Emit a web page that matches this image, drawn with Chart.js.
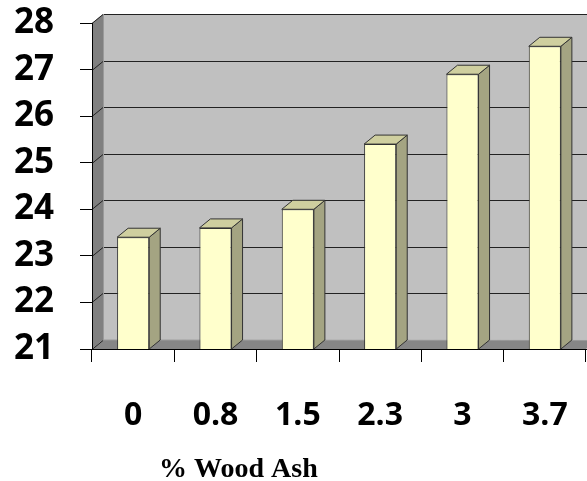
<!DOCTYPE html>
<html>
<head>
<meta charset="utf-8">
<script src="https://cdn.jsdelivr.net/npm/chart.js@4/dist/chart.umd.min.js"></script>
<style>
  html, body { margin: 0; padding: 0; background: #ffffff; }
  #wrap { width: 587px; height: 481px; }
</style>
</head>
<body>
<div id="wrap"><canvas id="chart" width="587" height="481"></canvas></div>
<script>
// Data
const categories = ['0', '0.8', '1.5', '2.3', '3', '3.7'];
const values = [23.4, 23.6, 24.0, 25.4, 26.9, 27.5];
const yMin = 21;
const yMax = 28;
const yStep = 1;
const xTitle = '% Wood Ash';

// 3D look: depth offset of the walls and column sides
const DX = 11, DY = 9;

const wallsPlugin = {
  id: 'walls',
  beforeDraw(chart) {
    const { ctx, chartArea: a, scales } = chart;
    const y = scales.y;
    ctx.save();
    // back wall
    ctx.fillStyle = '#c0c0c0';
    ctx.fillRect(a.left + DX, a.top - DY, a.right - a.left + DX, a.bottom - a.top);
    // left side wall
    ctx.fillStyle = '#808080';
    ctx.beginPath();
    ctx.moveTo(a.left, a.top);
    ctx.lineTo(a.left + DX, a.top - DY);
    ctx.lineTo(a.left + DX, a.bottom - DY);
    ctx.lineTo(a.left, a.bottom);
    ctx.closePath();
    ctx.fill();
    // floor
    ctx.fillStyle = '#868686';
    ctx.beginPath();
    ctx.moveTo(a.left, a.bottom);
    ctx.lineTo(a.left + DX, a.bottom - DY);
    ctx.lineTo(a.right + DX, a.bottom - DY);
    ctx.lineTo(a.right, a.bottom);
    ctx.closePath();
    ctx.fill();
    // grid lines on the walls
    ctx.strokeStyle = '#222222';
    ctx.lineWidth = 1;
    for (let v = yMin + yStep; v <= yMax; v += yStep) {
      const py = Math.round(y.getPixelForValue(v)) + 0.5;
      ctx.beginPath();
      ctx.moveTo(a.left, py);
      ctx.lineTo(a.left + DX, py - DY);
      ctx.lineTo(a.right + DX, py - DY);
      ctx.stroke();
    }
    // inner edges of the walls
    ctx.strokeStyle = '#9a9a9a';
    ctx.beginPath();
    ctx.moveTo(a.left + DX + 0.5, a.top - DY);
    ctx.lineTo(a.left + DX + 0.5, a.bottom - DY);
    ctx.lineTo(a.right + DX, a.bottom - DY + 0.5);
    ctx.stroke();
    ctx.strokeStyle = '#222222';
    ctx.beginPath();
    ctx.moveTo(a.left, a.bottom + 0.5);
    ctx.lineTo(a.left + DX, a.bottom - DY + 0.5);
    ctx.stroke();
    ctx.restore();
  }
};

const columnsPlugin = {
  id: 'columns3d',
  afterDatasetsDraw(chart) {
    const { ctx, chartArea: a } = chart;
    const meta = chart.getDatasetMeta(0);
    ctx.save();
    ctx.strokeStyle = '#333333';
    ctx.lineWidth = 1;
    ctx.lineJoin = 'round';
    meta.data.forEach(bar => {
      const p = bar.getProps(['x', 'y', 'base', 'width'], true);
      const base = Math.min(p.base, a.bottom);
      const y = p.y;
      const l = p.x - p.width / 2, r = p.x + p.width / 2;
      // side face
      ctx.fillStyle = '#a4a482';
      ctx.beginPath();
      ctx.moveTo(r, y);
      ctx.lineTo(r + DX, y - DY);
      ctx.lineTo(r + DX, base - DY);
      ctx.lineTo(r, base);
      ctx.closePath();
      ctx.fill();
      ctx.stroke();
      // top face
      ctx.fillStyle = '#cfcf9f';
      ctx.beginPath();
      ctx.moveTo(l, y);
      ctx.lineTo(l + DX, y - DY);
      ctx.lineTo(r + DX, y - DY);
      ctx.lineTo(r, y);
      ctx.closePath();
      ctx.fill();
      ctx.stroke();
    });
    ctx.restore();
  }
};

const axisTitlePlugin = {
  id: 'axisTitle',
  afterDraw(chart) {
    const { ctx } = chart;
    ctx.save();
    ctx.fillStyle = '#000000';
    ctx.font = 'bold 28px "Liberation Serif", "Times New Roman", serif';
    ctx.textAlign = 'left';
    ctx.textBaseline = 'alphabetic';
    ctx.fillText(xTitle, 159, 477);
    ctx.restore();
  }
};

new Chart(document.getElementById('chart'), {
  type: 'bar',
  data: {
    labels: categories,
    datasets: [{
      data: values,
      backgroundColor: '#ffffcc',
      borderColor: '#333333',
      borderWidth: 1,
      barPercentage: 0.39,
      categoryPercentage: 1.0
    }]
  },
  options: {
    responsive: false,
    animation: false,
    devicePixelRatio: 1,
    layout: { padding: { top: 23, right: 1, left: 0, bottom: 0 } },
    plugins: {
      legend: { display: false },
      tooltip: { enabled: false }
    },
    scales: {
      x: {
        offset: true,
        grid: {
          offset: true,
          drawOnChartArea: false,
          tickLength: 13,
          color: '#000000'
        },
        border: { display: true, color: '#000000' },
        ticks: {
          color: '#000000',
          padding: 35,
          maxRotation: 0,
          autoSkip: false,
          font: { family: '"Open Sans", sans-serif', size: 32, weight: 'bold' }
        },
        afterFit(scale) {
          scale.height = 132;
          scale.paddingLeft = 0;
          scale.paddingRight = 0;
        }
      },
      y: {
        min: yMin,
        max: yMax,
        grid: {
          drawOnChartArea: false,
          tickLength: 12,
          color: '#000000'
        },
        border: { display: true, color: '#000000' },
        ticks: {
          stepSize: yStep,
          autoSkip: false,
          color: '#000000',
          padding: 26,
          font: { family: '"Open Sans", sans-serif', size: 35, weight: 'bold' }
        },
        afterFit(scale) {
          scale.width = 92;
          scale.paddingTop = 0;
          scale.paddingBottom = 0;
        }
      }
    }
  },
  plugins: [wallsPlugin, columnsPlugin, axisTitlePlugin]
});
</script>
</body>
</html>
